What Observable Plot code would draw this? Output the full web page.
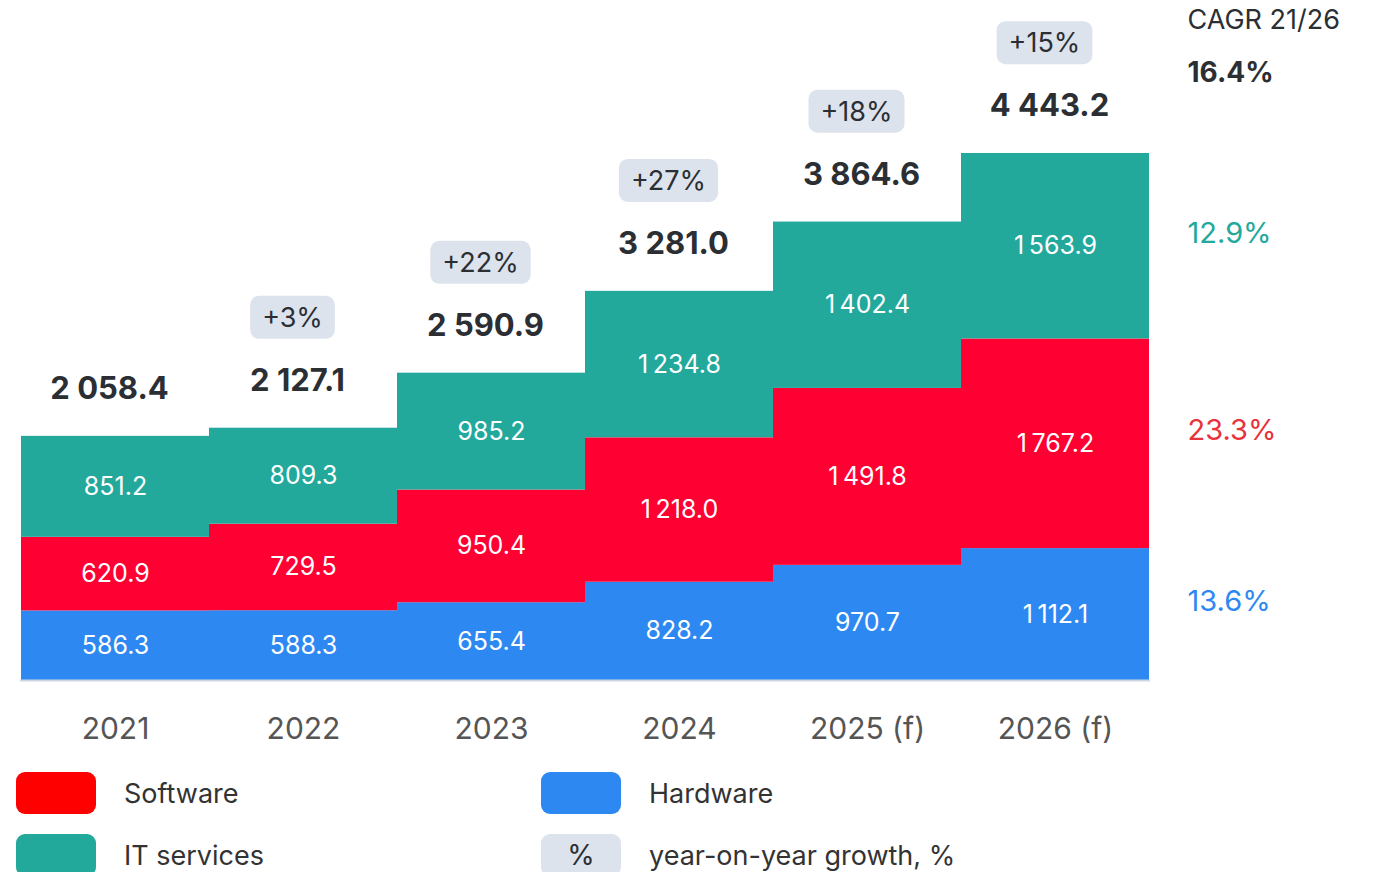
<!DOCTYPE html>
<html>
<head>
<meta charset="utf-8">
<script src="https://cdn.jsdelivr.net/npm/d3@7"></script>
<script src="https://cdn.jsdelivr.net/npm/@observablehq/plot@0.6"></script>
<style>
  html, body { margin: 0; padding: 0; background: #fff; }
  body { width: 1373px; height: 872px; overflow: hidden; font-family: Inter, "Noto Sans", sans-serif; }
  #legend { position: relative; margin-top: 12px; height: 110px; }
  .item { position: absolute; display: flex; align-items: center; }
  .sw { width: 80px; height: 42px; border-radius: 9px; display: flex; align-items: center; justify-content: center; font-size: 28px; color: #2b2f33; }
  .lab { margin-left: 28px; font-size: 27px; color: #333; }
</style>
</head>
<body>
<div id="chart"></div>
<div id="legend"></div>
<script>
const years = ["2021", "2022", "2023", "2024", "2025 (f)", "2026 (f)"];
const series = ["Hardware", "Software", "IT services"];
const hardware = [586.3, 588.3, 655.4, 828.2, 970.7, 1112.1];
const software = [620.9, 729.5, 950.4, 1218.0, 1491.8, 1767.2];
const itServices = [851.2, 809.3, 985.2, 1234.8, 1402.4, 1563.9];
const totals = [2058.4, 2127.1, 2590.9, 3281.0, 3864.6, 4443.2];
const growth = [null, "+3%", "+22%", "+27%", "+18%", "+15%"];
const cagrSeries = ["13.6%", "23.3%", "12.9%"];
const cagrTotal = "16.4%";
const cagrTitle = "CAGR 21/26";
const colors = ["#2E88F2", "#FF0033", "#22A99C"];
const cagrColors = ["#2E88F2", "#E8323C", "#22A99C"];

const fmtSeg = d3.formatLocale({thousands: "\u2009", grouping: [3], decimal: "."}).format(",.1f");
const fmtTot = d3.formatLocale({thousands: " ", grouping: [3], decimal: "."}).format(",.1f");

const values = [hardware, software, itServices];
const rows = [];
years.forEach((y, i) => series.forEach((s, j) => rows.push({year: y, series: s, value: values[j][i]})));
const tot = years.map((y, i) => ({year: y, total: totals[i], growth: growth[i]}));
const last = years.length - 1;
const cagrRows = series.map((s, j) => ({year: years[last], series: s, value: values[j][last], label: cagrSeries[j], color: cagrColors[j]}));
const topRows = [{year: years[last], total: totals[last]}];

const order = series;
const chart = Plot.plot({
  width: 1373,
  height: 760,
  marginLeft: 20,
  marginRight: 223,
  marginTop: 0,
  marginBottom: 80,
  x: {domain: years, padding: 0, label: null},
  y: {domain: [0, 5733], axis: null},
  color: {domain: series, range: colors},
  style: {fontFamily: "Inter, sans-serif", overflow: "visible"},
  marks: [
    Plot.barY(rows, Plot.stackY({x: "year", y: "value", z: "series", fill: "series", order, insetLeft: 0, insetRight: 0})),
    Plot.ruleY([0], {stroke: "#cdd7e4", strokeWidth: 2}),
    Plot.text(rows, Plot.stackY({x: "year", y: "value", z: "series", order, text: d => fmtSeg(d.value), fill: "white", fontSize: 25})),
    Plot.text(tot, {x: "year", y: "total", text: d => fmtTot(d.total), dy: -47, dx: -6, fontSize: 31, fontWeight: 700, fill: "#2b2f33"}),
    Plot.text(tot.filter(d => d.growth), {x: "year", y: "total", text: "growth", dy: -110, dx: -11, fontSize: 27, fill: "#2b2f33"}),
    Plot.text(cagrRows, Plot.stackY({x: "year", y: "value", z: "series", order, text: "label", fill: d => d.color, dx: 132, dy: -13, textAnchor: "start", fontSize: 29})),
    Plot.text(topRows, {x: "year", y: "total", text: () => cagrTitle, dx: 132, dy: -133, textAnchor: "start", fontSize: 27, fill: "#2b2f33"}),
    Plot.text(topRows, {x: "year", y: "total", text: () => cagrTotal, dx: 132, dy: -80, textAnchor: "start", fontSize: 28, fontWeight: 700, fill: "#2b2f33"}),
    Plot.axisX({tickSize: 0, tickPadding: 37, fontSize: 30, fill: "#555", label: null, color: "#555"})
  ]
});
document.getElementById("chart").appendChild(chart);

// badge backgrounds behind growth labels
const svgNS = "http://www.w3.org/2000/svg";
const growthSet = new Set(growth.filter(Boolean));
Array.from(chart.querySelectorAll("text")).forEach(t => {
  if (!growthSet.has(t.textContent.trim())) return;
  const b = t.getBBox();
  const r = document.createElementNS(svgNS, "rect");
  r.setAttribute("x", b.x - 12);
  r.setAttribute("y", b.y - 5);
  r.setAttribute("width", b.width + 24);
  r.setAttribute("height", b.height + 10);
  r.setAttribute("rx", 9);
  r.setAttribute("fill", "#DDE3EC");
  if (t.getAttribute("transform")) r.setAttribute("transform", t.getAttribute("transform"));
  t.parentNode.insertBefore(r, t);
});

// legend
const legendItems = [
  {label: "Software", color: "#FF0000", left: 16, top: 0},
  {label: "Hardware", color: "#2E88F2", left: 541, top: 0},
  {label: "IT services", color: "#22A99C", left: 16, top: 62},
  {label: "year-on-year growth, %", color: "#DDE3EC", left: 541, top: 62, inner: "%"}
];
const leg = document.getElementById("legend");
legendItems.forEach(d => {
  const it = document.createElement("div");
  it.className = "item";
  it.style.left = d.left + "px";
  it.style.top = d.top + "px";
  const sw = document.createElement("div");
  sw.className = "sw";
  sw.style.background = d.color;
  if (d.inner) sw.textContent = d.inner;
  const lb = document.createElement("div");
  lb.className = "lab";
  lb.textContent = d.label;
  it.appendChild(sw); it.appendChild(lb);
  leg.appendChild(it);
});
</script>
</body>
</html>
